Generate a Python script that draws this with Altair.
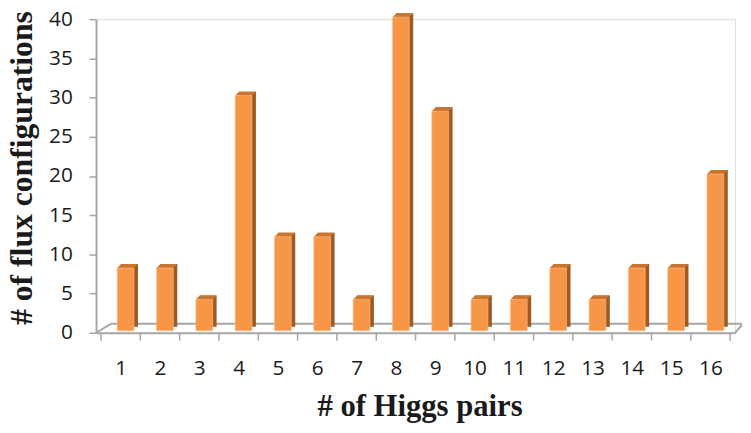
import altair as alt
import pandas as pd

# ---- data ----
pairs = list(range(1, 17))
configs = [8, 8, 4, 30, 12, 12, 4, 40, 28, 4, 4, 8, 4, 8, 8, 20]
y_ticks = [0, 5, 10, 15, 20, 25, 30, 35, 40]
boundaries = [p - 0.5 for p in pairs] + [pairs[-1] + 0.5]

df = pd.DataFrame({"pairs": pairs, "configs": configs})
bdf = pd.DataFrame({"b": boundaries})
one = pd.DataFrame({"k": [0]})

W, H = 646, 317
FRONT = "#F79646"
SIDE = "#9E5A22"
TOP = "#C9742F"
GRAY = "#A6A6A6"
INK = "#1a1a1a"

xscale = alt.Scale(domain=[0.5, 16.5], nice=False, zero=False)
yscale = alt.Scale(domain=[0, 40], nice=False)

x_axis = alt.Axis(
    values=pairs, labelAngle=0, labelFont="Open Sans", labelFontSize=21,
    labelColor=INK, tickSize=0, ticks=False, labelPadding=25, labelOverlap=False,
    domainColor=GRAY, domainWidth=2, grid=False,
    title="# of Higgs pairs", titleFont="Liberation Serif", titleFontSize=31,
    titleFontWeight="bold", titleColor=INK, titleX=327, titleY=84,
    titleBaseline="alphabetic", titleAlign="center",
)
y_axis = alt.Axis(
    values=y_ticks, labelFont="Open Sans", labelFontSize=21, labelColor=INK,
    tickSize=7, tickColor=GRAY, tickWidth=1.5, labelPadding=17, labelOverlap=False,
    domainColor=GRAY, domainWidth=2, grid=False,
    title="# of flux configurations", titleFont="Liberation Serif",
    titleFontSize=32, titleFontWeight="bold", titleColor=INK,
    titleAngle=270, titleX=-65, titleY=150, titleBaseline="alphabetic",
    titleAlign="center",
)

X = lambda f: alt.X(f, scale=xscale, axis=x_axis)
Y = lambda f: alt.Y(f, scale=yscale, axis=y_axis)

base = alt.Chart(df)

# floor (3D base) decoration
floor_back = alt.Chart(one).mark_rule(color=GRAY, strokeWidth=2).encode(
    x=alt.value(15), x2=alt.value(W + 7), y=alt.value(H - 9), y2=alt.value(H - 9))
floor_left = alt.Chart(one).mark_rule(color=GRAY, strokeWidth=2).encode(
    x=alt.value(0), x2=alt.value(15), y=alt.value(H), y2=alt.value(H - 9))
floor_right = alt.Chart(one).mark_rule(color=GRAY, strokeWidth=2).encode(
    x=alt.value(W), x2=alt.value(W + 7), y=alt.value(H), y2=alt.value(H - 8))

ticks = alt.Chart(bdf).mark_rule(color=GRAY, strokeWidth=1.5).encode(
    x=X("b:Q"), y=alt.value(H), y2=alt.value(H + 8))

side = base.mark_bar(width=17, xOffset=9, yOffset=-6, y2Offset=-6, color=SIDE).encode(
    x=X("pairs:Q"), y=Y("configs:Q"), y2=alt.datum(0))

top_path = "M -1 0.19 L 0.619 0.19 L 1 -0.19 L -0.619 -0.19 Z"
top = base.mark_point(shape=top_path, size=441, filled=True, opacity=1,
                      strokeWidth=0, color=TOP, xOffset=7, yOffset=-4).encode(
    x=X("pairs:Q"), y=Y("configs:Q"))

front = base.mark_bar(width=17, xOffset=5, yOffset=-2, y2Offset=-2, color=FRONT,
                      stroke="#FBC08F", strokeWidth=0.6).encode(
    x=X("pairs:Q"), y=Y("configs:Q"), y2=alt.datum(0))

chart = alt.layer(floor_back, floor_left, floor_right, ticks, side, top, front).properties(
    width=W, height=H, autosize="none",
    padding={"left": 89, "top": 9, "right": 8, "bottom": 95},
).configure_view(strokeWidth=0).configure(background="white")

chart.save("out.html", embed_options={"renderer": "svg", "actions": False})
